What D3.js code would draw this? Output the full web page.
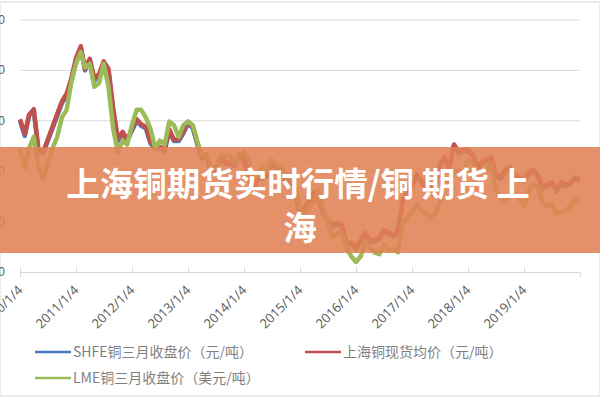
<!DOCTYPE html><html><head><meta charset="utf-8"><script src="https://cdn.jsdelivr.net/npm/d3@7"></script>
<style>body{margin:0;background:#fff}</style></head><body><svg width="600" height="400"></svg><script>
const startYear=2010;
const shfe=[60000,57000,61000,62000,54000,53500,56000,58500,61000,63500,65000,68000,
72000,74500,70000,72000,68000,69000,71500,70000,62000,56000,57500,56000,
58000,60000,59000,58500,55500,54500,54500,54000,58000,56000,56000,57500,
59500,58500,55500,52500,53000,49500,50500,52500,51500,51500,51000,53000,
52000,48500,46000,48500,48500,49000,51500,50500,49000,48000,47500,46000,
41000,42500,43500,45500,44500,41500,40000,39000,39500,39000,35500,35500,
34500,36000,37500,36000,36000,36500,38000,37500,37000,38000,44000,45500,
47000,49000,48000,46500,46500,47000,51000,52500,50500,55000,53500,54000,
54000,53000,50500,51500,52000,52500,49000,48500,50000,50500,49000,48500,
48000,49500,50000,49000,46500,47000,47500,46000,47500,47000,47500,48500,48000];
const spot=[60300,57400,61200,62300,54400,53800,56300,58800,61400,63800,65400,68300,
72400,74800,70300,72300,68400,69300,71800,70300,62400,56400,57800,56300,
58300,60300,59300,58800,55800,54800,54800,54300,58300,56300,56300,57800,
59800,58800,55800,52800,53300,49800,50800,52800,51800,51800,51300,53300,
52300,48800,46300,48800,48800,49300,51800,50800,49300,48300,47800,46300,
41300,42800,43800,45800,44800,41800,40300,39300,39800,39300,35800,35800,
34800,36300,37800,36300,36300,36800,38300,37800,37300,38300,44300,45800,
47300,49300,48300,46800,46800,47300,51300,52800,50800,55300,53800,54300,
54300,53300,50800,51800,52300,52800,49300,48800,50300,50800,49300,48800,
48300,49800,50300,49300,46800,47300,47800,46300,47800,47300,47800,48800,48300];
const lme=[7400,6900,7400,7700,6900,6600,7000,7400,7700,8200,8400,9100,
9600,9900,9500,9600,9000,9100,9600,9000,7900,7300,7600,7500,
8000,8400,8400,8200,7900,7400,7600,7500,8100,8000,7700,8000,
8100,8000,7600,7200,7200,6900,6900,7200,7200,7200,7000,7200,
7300,7100,6600,6700,6900,6800,7100,7000,6900,6700,6700,6400,
5800,5700,5900,6000,6300,5800,5500,5100,5200,5200,4800,4600,
4450,4600,4950,4850,4700,4650,4900,4750,4800,4700,5450,5600,
5750,5950,5800,5700,5600,5700,6000,6500,6550,6800,6800,6800,
7100,7000,6800,6800,6850,7000,6300,6100,6000,6200,6200,6100,
5900,6300,6450,6400,6000,5900,5950,5700,5750,5800,5900,6100,6000];
const yTicks=[30000,40000,50000,60000,70000,80000];
const xTickLabels=["2010/1/4","2011/1/4","2012/1/4","2013/1/4","2014/1/4","2015/1/4","2016/1/4","2017/1/4","2018/1/4","2019/1/4"];
const seriesNames=["SHFE铜三月收盘价（元/吨）","上海铜现货均价（元/吨）","LME铜三月收盘价（美元/吨）"];
const colors=["#4a7bc0","#c0504d","#9bbb59"];

const svg=d3.select("svg");
const x=d3.scaleTime().domain([new Date(2010,0,4),new Date(2020,0,4)]).range([20,580]);
const y=d3.scaleLinear().domain([30000,80000]).range([272,20]);
const y2=d3.scaleLinear().domain([4190,10733]).range([272,20]);
const date=i=>new Date(startYear,i,4);
svg.append("rect").attr("x",0).attr("y",2).attr("width",600).attr("height",394).attr("fill","none").attr("stroke","#d9d9d9");
const g=svg.append("g");
g.selectAll("line.grid").data(yTicks.slice(1)).join("line").attr("x1",20).attr("x2",580)
 .attr("y1",d=>y(d)).attr("y2",d=>y(d)).attr("stroke","#d9d9d9");
g.selectAll("text.yl").data(yTicks).join("text").attr("x",5).attr("y",d=>y(d)+4)
 .attr("text-anchor","end").attr("font-size",12).attr("fill","#595959").attr("font-family","Liberation Sans").text(d=>d);
const xa=svg.append("g").attr("transform","translate(0,272)")
 .call(d3.axisBottom(x).tickValues(xTickLabels.map(s=>new Date(+s.slice(0,4),0,4))).tickSize(5).tickFormat((d,i)=>xTickLabels[i]));
xa.select(".domain").attr("stroke","#d9d9d9");xa.selectAll("line").attr("stroke","#d9d9d9").attr("transform","translate(0,-5)");
xa.selectAll("text").attr("dy",0).attr("y",0).attr("text-anchor","end").attr("transform","translate(3,19) rotate(-45)")
 .attr("font-size",13).attr("fill","#595959").attr("font-family","Open Sans");
const ln=(sc)=>d3.line().x((d,i)=>x(date(i))).y(d=>sc(d)).curve(d3.curveLinear);
[[shfe,y],[spot,y],[lme,y2]].forEach(([d,sc],k)=>{
 svg.append("path").attr("d",ln(sc)(d)).attr("fill","none").attr("stroke",colors[k]).attr("stroke-width",4.5).attr("stroke-linejoin","round");
});
const leg=[[35,352],[305,352],[35,378]];
seriesNames.forEach((n,k)=>{
 svg.append("line").attr("x1",leg[k][0]).attr("x2",leg[k][0]+36).attr("y1",leg[k][1]).attr("y2",leg[k][1]).attr("stroke",colors[k]).attr("stroke-width",2.5);
 svg.append("text").attr("x",leg[k][0]+38).attr("y",leg[k][1]+5).attr("font-size",14).attr("fill","#7f7f7f")
  .attr("font-family","Noto Sans CJK SC").text(n);
});
svg.append("rect").attr("x",0).attr("y",147).attr("width",600).attr("height",106).attr("fill","rgb(224,130,85)").attr("opacity",0.88);
const t=svg.append("text").attr("text-anchor","middle").attr("fill","#fff").attr("font-weight","bold").attr("font-size",33.5).attr("font-family","Noto Sans CJK SC");
t.append("tspan").attr("x",298).attr("y",196).text("上海铜期货实时行情/铜 期货 上");
t.append("tspan").attr("x",300).attr("y",240).text("海");
</script></body></html>
